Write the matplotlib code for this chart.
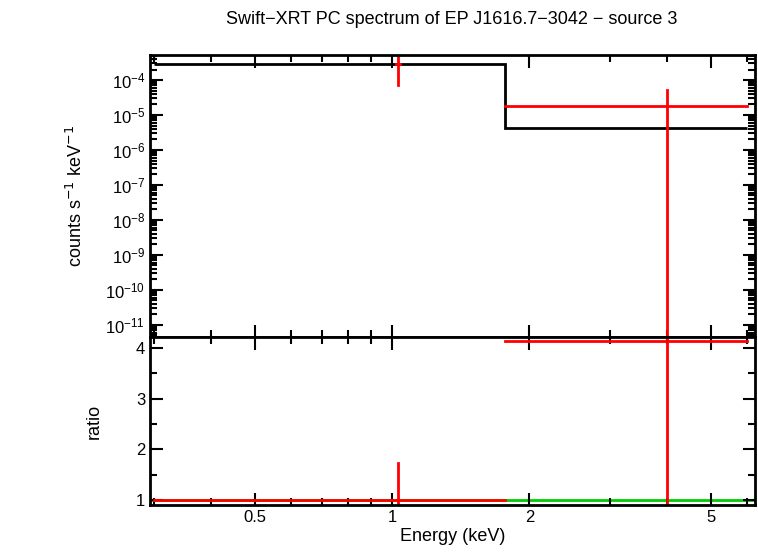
import matplotlib
matplotlib.use("Agg")
import matplotlib.pyplot as plt
from matplotlib.ticker import LogLocator, FixedLocator, NullFormatter, FixedFormatter

plt.rcParams["font.family"] = "Liberation Sans"

# model step (black)
model_edges = [0.3, 1.77, 6.0]
model_vals = [2.8e-4, 4.3e-6]
# data (red)
data_x = [1.03, 4.0]
data_xlo = [1.02, 1.77]
data_xhi = [1.04, 6.0]
data_y = [2.8e-4, 1.8e-5]
data_ylo = [7.2e-5, 1e-13]
data_yhi = [5e-4, 5.2e-5]
ratio_y = [1.0, 4.14]
ratio_lo = [0.9, 0.5]
ratio_hi = [1.73, 5.0]

fig = plt.figure(figsize=(7.58, 5.56), dpi=100)
W, H = 758, 556
ax1 = fig.add_axes([150/W, 1-337/H, 605/W, 282/H])
ax2 = fig.add_axes([150/W, 1-505/H, 605/W, 168/H], sharex=ax1)

ax1.stairs(model_vals, model_edges, color="black", lw=2, baseline=None)
for i in range(2):
    ax1.plot([data_xlo[i], data_xhi[i]], [data_y[i]]*2, color="red", lw=2)
    ax1.plot([data_x[i]]*2, [data_ylo[i], data_yhi[i]], color="red", lw=2)
    ax2.plot([data_xlo[i] if i else 0.3, data_xhi[i] if i else 1.77], [ratio_y[i]]*2, color="red", lw=2)
    ax2.plot([data_x[i]]*2, [ratio_lo[i], ratio_hi[i]], color="red", lw=2)
ax2.axhline(1.0, color="#00cc00", lw=2, zorder=1)

ax1.set_xscale("log")
ax1.set_yscale("log")
ax1.set_xlim(0.294, 6.25)
ax1.set_ylim(4.5e-12, 5.2e-4)
ax2.set_ylim(0.9, 4.22)

ax1.yaxis.set_major_locator(FixedLocator([1e-11,1e-10,1e-9,1e-8,1e-7,1e-6,1e-5,1e-4]))
ax1.yaxis.set_minor_locator(LogLocator(base=10, subs=range(2, 10), numticks=50))
ax1.yaxis.set_minor_formatter(NullFormatter())
ax2.xaxis.set_major_locator(FixedLocator([0.5, 1, 2, 5]))
ax2.xaxis.set_major_formatter(FixedFormatter(["0.5", "1", "2", "5"]))
ax2.xaxis.set_minor_locator(FixedLocator([0.3,0.4,0.6,0.7,0.8,0.9,3,4,6]))
ax2.xaxis.set_minor_formatter(NullFormatter())
ax2.yaxis.set_major_locator(FixedLocator([1, 2, 3, 4]))
ax2.yaxis.set_minor_locator(FixedLocator([1.5, 2.5, 3.5, 4.0]))
ax2.yaxis.set_minor_formatter(NullFormatter())

for ax in (ax1, ax2):
    ax.tick_params(which="both", direction="in", top=True, right=True, labelsize=12, width=1.5)
    ax.tick_params(which="major", length=9)
    ax.tick_params(which="minor", length=5)
    for s in ax.spines.values():
        s.set_linewidth(2)
plt.setp(ax1.get_xticklabels(), visible=False)

ax1.set_ylabel("counts s$^{-1}$ keV$^{-1}$", fontsize=13, labelpad=14)
ax2.set_ylabel("ratio", fontsize=13, labelpad=24)
ax2.set_xlabel("Energy (keV)", fontsize=13, labelpad=2)
fig.text(452/W, 1-20/H, "Swift\u2212XRT PC spectrum of EP J1616.7\u22123042 \u2212 source 3",
         ha="center", va="center", fontsize=13)
fig.savefig("out.png", dpi=100)
